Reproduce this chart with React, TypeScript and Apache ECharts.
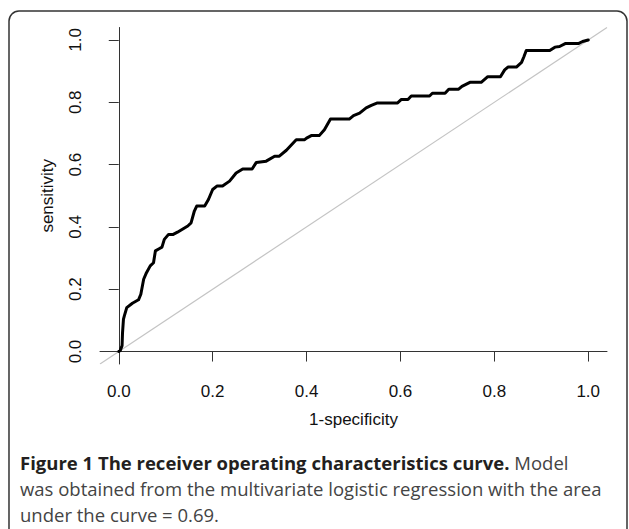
import React, { useEffect, useRef } from "react";
import * as echarts from "echarts";

// ROC curve points: 1 - specificity (x) and sensitivity (y)
const fpr = [
  0, 0.003, 0.007, 0.008, 0.010, 0.012, 0.017, 0.029, 0.042, 0.047, 0.053, 0.059,
  0.067, 0.074, 0.078, 0.086, 0.092, 0.097, 0.106, 0.116, 0.125, 0.147, 0.154,
  0.161, 0.166, 0.183, 0.191, 0.200, 0.209, 0.221, 0.236, 0.250, 0.264, 0.284,
  0.293, 0.314, 0.332, 0.342, 0.357, 0.378, 0.396, 0.400, 0.410, 0.427, 0.438,
  0.451, 0.491, 0.500, 0.513, 0.527, 0.538, 0.551, 0.594, 0.602, 0.616, 0.623,
  0.662, 0.668, 0.695, 0.703, 0.724, 0.731, 0.748, 0.772, 0.786, 0.813, 0.822,
  0.829, 0.847, 0.858, 0.863, 0.868, 0.918, 0.929, 0.939, 0.952, 0.980, 0.988, 1.0,
];
const tpr = [
  0, 0.003, 0.019, 0.061, 0.104, 0.115, 0.141, 0.155, 0.166, 0.184, 0.232, 0.253,
  0.275, 0.285, 0.323, 0.330, 0.335, 0.360, 0.376, 0.376, 0.383, 0.403, 0.413,
  0.451, 0.467, 0.467, 0.488, 0.520, 0.531, 0.531, 0.547, 0.573, 0.586, 0.586,
  0.607, 0.611, 0.627, 0.627, 0.646, 0.680, 0.680, 0.685, 0.693, 0.693, 0.712,
  0.746, 0.746, 0.757, 0.765, 0.782, 0.790, 0.798, 0.798, 0.809, 0.809, 0.820,
  0.820, 0.829, 0.829, 0.842, 0.842, 0.851, 0.864, 0.864, 0.882, 0.882, 0.904,
  0.913, 0.913, 0.928, 0.946, 0.966, 0.966, 0.977, 0.979, 0.989, 0.989, 0.995, 1.0,
];

// chance (diagonal) reference line across the plotting range
const diagX = [-0.04, 1.04];
const diagY = [-0.04, 1.04];

const tickValues = [0, 0.2, 0.4, 0.6, 0.8, 1.0];
const tickLabels = ["0.0", "0.2", "0.4", "0.6", "0.8", "1.0"];

const xTitle = "1-specificity";
const yTitle = "sensitivity";
const captionBold = "Figure 1 The receiver operating characteristics curve.";
const captionLine1Rest = "Model";
const captionLine2 = "was obtained from the multivariate logistic regression with the area";
const captionLine3 = "under the curve = 0.69.";

const AXIS_FONT = "'Liberation Sans', Arial, Helvetica, sans-serif";
const CAPTION_FONT = "'Open Sans', 'Noto Sans', sans-serif";
const CAPTION_SIZE = 18.5;

export default function App() {
  const ref = useRef<HTMLDivElement>(null);

  useEffect(() => {
    if (!ref.current) return;
    const chart = echarts.init(ref.current, undefined, { renderer: "svg" });
    const fmt = (v: number) => {
      const i = tickValues.findIndex((t) => Math.abs(t - v) < 1e-9);
      return i >= 0 ? tickLabels[i] : "";
    };
    const axisCommon = {
      type: "value" as const,
      min: -0.04,
      max: 1.04,
      splitLine: { show: false },
      axisLine: { show: true, lineStyle: { color: "#333", width: 1 } },
      axisTick: {
        show: true,
        customValues: tickValues,
        length: 10,
        lineStyle: { color: "#333", width: 1 },
      },
      nameLocation: "middle" as const,
      nameTextStyle: { fontFamily: AXIS_FONT, fontSize: 17, color: "#111" },
    };
    chart.setOption({
      animation: false,
      backgroundColor: "#fff",
      grid: { left: 100, top: 27.5, width: 507, height: 336.5 },
      xAxis: {
        ...axisCommon,
        name: xTitle,
        nameGap: 47,
        axisLabel: {
          customValues: tickValues,
          formatter: fmt,
          margin: 19,
          fontFamily: AXIS_FONT,
          fontSize: 17,
          color: "#111",
        },
      },
      yAxis: {
        ...axisCommon,
        name: yTitle,
        nameGap: 44,
        axisLabel: {
          customValues: tickValues,
          formatter: fmt,
          rotate: 90,
          margin: 16,
          fontFamily: AXIS_FONT,
          fontSize: 17,
          color: "#111",
        },
      },
      series: [
        {
          type: "line",
          data: diagX.map((x, i) => [x, diagY[i]]),
          showSymbol: false,
          silent: true,
          lineStyle: { color: "#c4c4c4", width: 1.2 },
          z: 1,
        },
        {
          type: "line",
          data: fpr.map((x, i) => [x, tpr[i]]),
          showSymbol: false,
          lineStyle: { color: "#000", width: 3, join: "round", cap: "round" },
          z: 2,
        },
      ],
      graphic: [
        {
          type: "rect",
          shape: { x: 9, y: 11, width: 618, height: 580, r: 10 },
          style: { fill: "none", stroke: "#333", lineWidth: 1.5 },
          silent: true,
          z: 0,
        },
        {
          type: "text",
          x: 20,
          y: 462,
          style: {
            text: `{b|${captionBold}} ${captionLine1Rest}`,
            font: `${CAPTION_SIZE}px ${CAPTION_FONT}`,
            fill: "#444",
            verticalAlign: "middle",
            rich: {
              b: {
                fontFamily: CAPTION_FONT,
                fontSize: CAPTION_SIZE,
                fontWeight: "bold",
                fill: "#231f20",
              },
            },
          },
        },
        {
          type: "text",
          x: 20,
          y: 488,
          style: {
            text: captionLine2,
            font: `${CAPTION_SIZE}px ${CAPTION_FONT}`,
            fill: "#444",
            verticalAlign: "middle",
          },
        },
        {
          type: "text",
          x: 20,
          y: 514,
          style: {
            text: captionLine3,
            font: `${CAPTION_SIZE}px ${CAPTION_FONT}`,
            fill: "#444",
            verticalAlign: "middle",
          },
        },
      ],
    });
    return () => chart.dispose();
  }, []);

  return (
    <div
      ref={ref}
      style={{ position: "fixed", left: 0, top: 0, width: 629, height: 529 }}
    />
  );
}
